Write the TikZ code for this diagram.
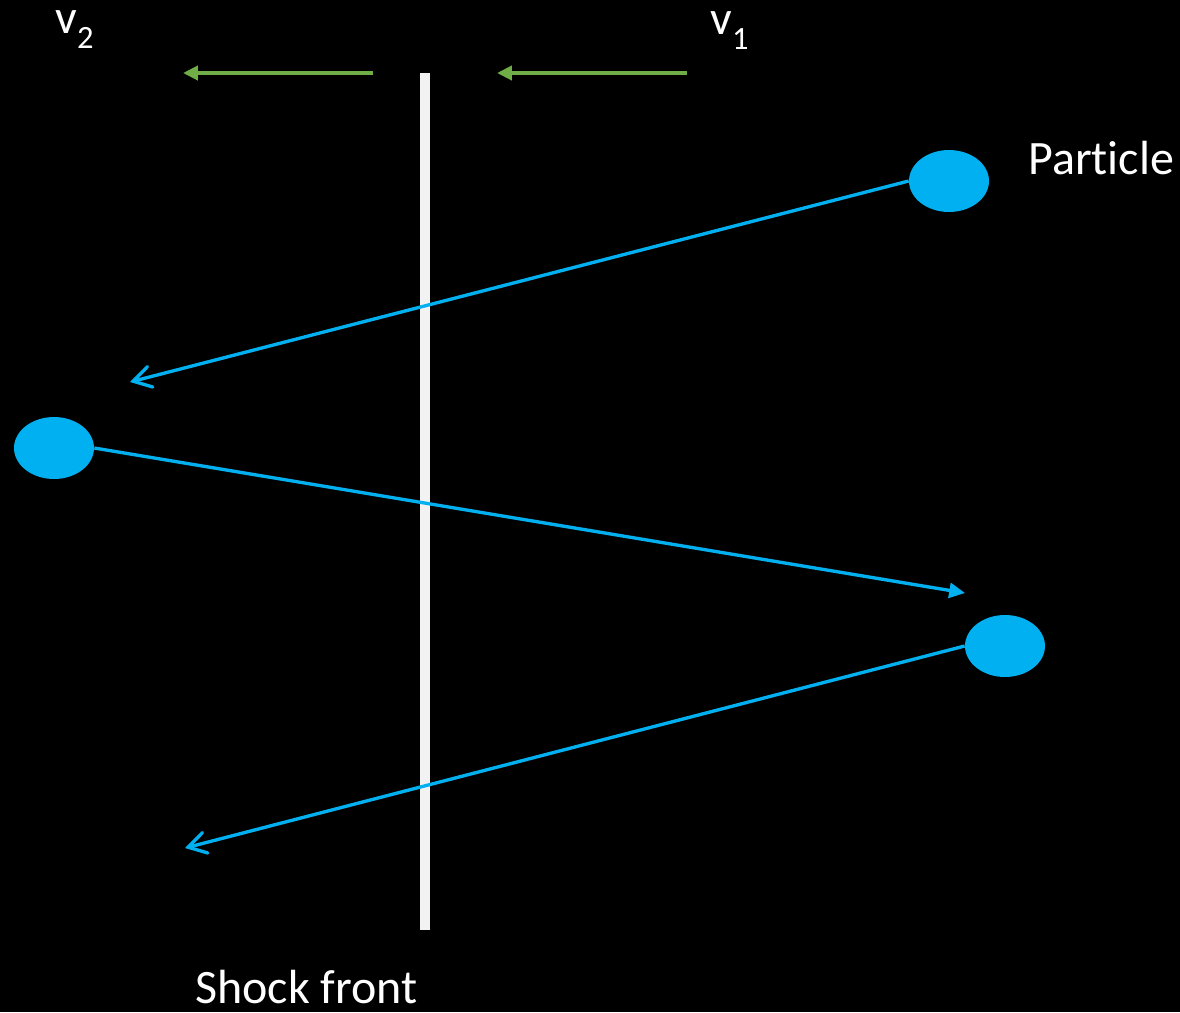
\documentclass[tikz,border=0pt]{standalone}
\usepackage{fontspec}
\setmainfont[Ligatures=NoCommon]{Carlito}
\definecolor{shgreen}{RGB}{112,173,71}
\definecolor{shcyan}{RGB}{0,176,240}
\definecolor{shwhite}{RGB}{242,242,242}
\usetikzlibrary{arrows.meta,positioning,shapes.geometric}
\newcommand{\lowsub}[1]{\raisebox{-0.32em}{\fontsize{18.5}{20}\selectfont #1}}

\begin{document}
\begin{tikzpicture}[x=0.02cm,y=-0.02cm,
    every node/.style={font=\fontsize{27.3}{31}\selectfont,text=white,inner sep=0pt},
    particle/.style={ellipse,fill=shcyan,minimum width=1.6cm,minimum height=1.24cm},
    flow/.style={shgreen,line width=2.3pt,-{Triangle[length=8.5pt,width=8pt]}},
    track/.style={shcyan,line width=1.9pt},
    barb/.style={-{Straight Barb[length=10pt,width=12pt,line cap=round]}}]

  %% background
  \fill[black] (0,0) rectangle (1180,1012);
  \useasboundingbox (0,0) rectangle (1180,1012);

  %% shock front
  \draw[shwhite,line width=6.2pt] (425,73) -- (425,930);
  \node[anchor=base west,text depth=0pt] (front) at (195,1003) {Shock front};

  %% flow velocities
  \coordinate (v2s) at (373,73);
  \coordinate (v2e) at (183,73);
  \coordinate (v1s) at (687,73);
  \coordinate (v1e) at (497,73);
  \draw[flow] (v2s) -- (v2e);
  \draw[flow] (v1s) -- (v1e);
  \node[anchor=base west] (v2) at (55,33) {v\lowsub{2}};
  \node[anchor=base west] (v1) at (710,34) {v\lowsub{1}};

  %% particle path
  \node[particle] (p1) at (949,181) {};
  \node[particle] (p2) at (54,448) {};
  \node[particle] (p3) at (1005,646) {};
  \node[anchor=base west] (plabel) at (1028,174) {Particle};

  \coordinate (t1) at (130,382);
  \coordinate (t2) at (965,593);
  \coordinate (t3) at (185,848);
  \draw[track,barb] (p1.west) -- (t1);
  \draw[track,-{Triangle[length=9pt,width=8.5pt]}] (p2.east) -- (t2);
  \draw[track,barb] (p3.west) -- (t3);
\end{tikzpicture}
\end{document}
